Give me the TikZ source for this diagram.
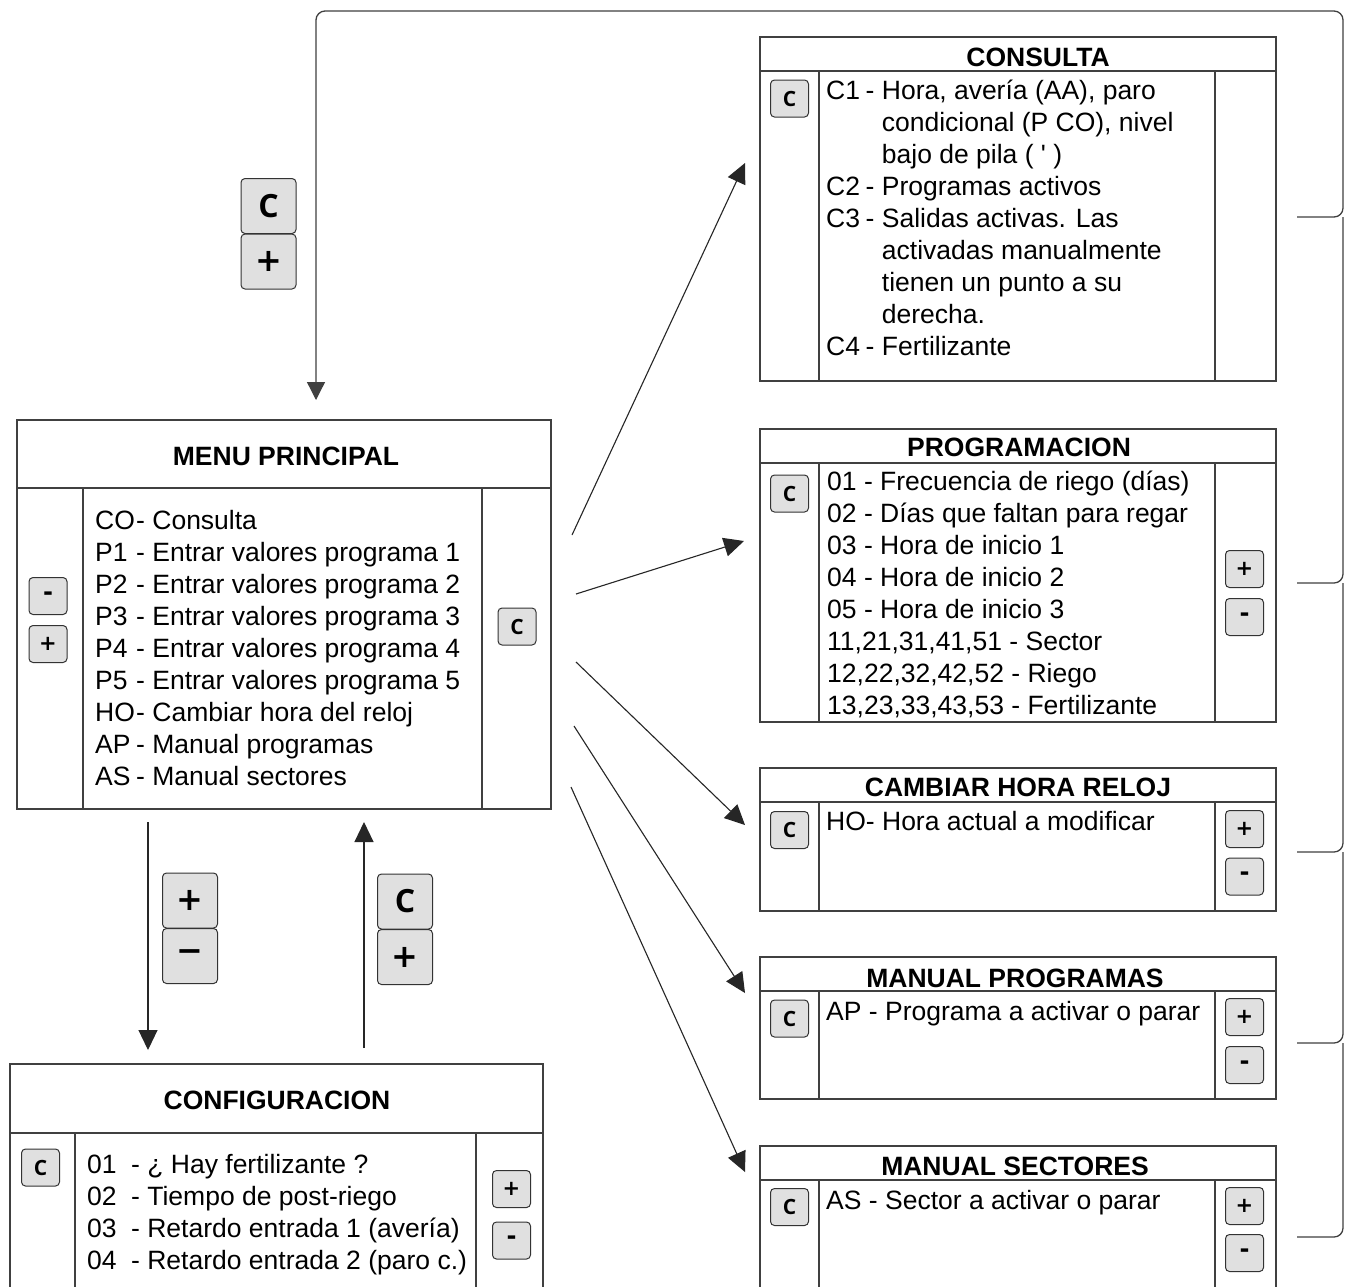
\documentclass[tikz,border=0pt]{standalone}
\usepackage{fontspec}
\setmainfont{Liberation Sans}
\newfontfamily\btnfont{Open Sans}
\newfontfamily\symfont{DejaVu Sans}
\usetikzlibrary{arrows.meta}
\newcommand\tline[4]{\node[txt] (#1) at (#2,#3) {#4};}
\newcommand\lab[2]{\makebox[#1pt][l]{#2}}
\newcommand\kplus{{\symfont\bfseries +}}
\newcommand\kminus{{\symfont\bfseries −}}
\newcommand\ksmin{{\symfont\bfseries\fontsize{24}{24}\selectfont -}}
\begin{document}
\begin{tikzpicture}[x=1pt,y=-1pt,
 panel/.style={draw=black!75, line width=1.3pt, fill=white, inner sep=0pt, outer sep=0pt},
 divline/.style={draw=black!75, line width=1.3pt},
 btn/.style={draw=black!80, line width=1pt, fill=black!12, rounded corners=4pt, inner sep=0pt},
 bigbtn/.style={btn, minimum width=55pt, minimum height=55pt, font=\btnfont\bfseries\fontsize{32}{32}\selectfont},
 smallbtn/.style={btn, minimum width=38pt, minimum height=37pt, font=\btnfont\bfseries\fontsize{21}{21}\selectfont},
 ttl/.style={font=\bfseries\fontsize{26.5}{30}\selectfont, anchor=base, inner sep=0pt},
 txt/.style={font=\fontsize{26.5}{32}\selectfont, anchor=base west, inner sep=0pt},
 conn/.style={draw=black!85, line width=1.1pt, -{Triangle[length=20pt,width=19pt]}},
 retline/.style={draw=black!75, line width=1.3pt, rounded corners=9pt},
]
\clip (0,0) rectangle (1351,1286);
\fill[white] (0,0) rectangle (1351,1286);

% ---------- panels ----------
\node[panel, minimum width=534pt, minimum height=389pt] (menu) at (284,614.5) {};
\node[panel, minimum width=516pt, minimum height=344pt] (consulta) at (1018,209) {};
\node[panel, minimum width=516pt, minimum height=293pt] (prog) at (1018,575.5) {};
\node[panel, minimum width=516pt, minimum height=143pt] (cambiar) at (1018,839.5) {};
\node[panel, minimum width=516pt, minimum height=142pt] (manprog) at (1018,1028) {};
\node[panel, minimum width=516pt, minimum height=154pt] (mansect) at (1018,1223) {};
\node[panel, minimum width=533pt, minimum height=236pt] (config) at (276.5,1182) {};

% dividers
\draw[divline] (17,488) -- (551,488) (83,488) -- (83,809) (482,488) -- (482,809);
\draw[divline] (760,71) -- (1276,71) (819,71) -- (819,381) (1215,71) -- (1215,381);
\draw[divline] (760,463) -- (1276,463) (819,463) -- (819,722) (1215,463) -- (1215,722);
\draw[divline] (760,802) -- (1276,802) (819,802) -- (819,911) (1215,802) -- (1215,911);
\draw[divline] (760,991) -- (1276,991) (819,991) -- (819,1099) (1215,991) -- (1215,1099);
\draw[divline] (760,1180) -- (1276,1180) (819,1180) -- (819,1300) (1215,1180) -- (1215,1300);
\draw[divline] (10,1133) -- (543,1133) (75,1133) -- (75,1300) (476,1133) -- (476,1300);

% ---------- titles ----------
\node[ttl] (tmenu) at (286,465) {MENU PRINCIPAL};
\node[ttl] (tcons) at (1038,66) {CONSULTA};
\node[ttl] (tprog) at (1019,456) {PROGRAMACION};
\node[ttl] (tcamb) at (1018,796) {CAMBIAR HORA RELOJ};
\node[ttl] (tmanp) at (1015,987) {MANUAL PROGRAMAS};
\node[ttl] (tmans) at (1015,1175) {MANUAL SECTORES};
\node[ttl] (tconf) at (277,1109) {CONFIGURACION};

% ---------- menu text ----------
\tline{m1}{95}{529}{\lab{41}{CO}- Consulta}
\tline{m2}{95}{561}{\lab{41}{P1}- Entrar valores programa 1}
\tline{m3}{95}{593}{\lab{41}{P2}- Entrar valores programa 2}
\tline{m4}{95}{625}{\lab{41}{P3}- Entrar valores programa 3}
\tline{m5}{95}{657}{\lab{41}{P4}- Entrar valores programa 4}
\tline{m6}{95}{689}{\lab{41}{P5}- Entrar valores programa 5}
\tline{m7}{95}{721}{\lab{41}{HO}- Cambiar hora del reloj}
\tline{m8}{95}{753}{\lab{41}{AP}- Manual programas}
\tline{m9}{95}{785}{\lab{41}{AS}- Manual sectores}

% ---------- consulta text ----------
\tline{c1}{826}{99}{\lab{39.5}{C1}- Hora, avería (AA), paro}
\tline{c1b}{826}{131}{\hspace*{55.7pt}condicional (P CO), nivel}
\tline{c1c}{826}{163}{\hspace*{55.7pt}bajo de pila ( \textquotesingle\ )}
\tline{c2}{826}{195}{\lab{39.5}{C2}- Programas activos}
\tline{c3}{826}{227}{\lab{39.5}{C3}- Salidas activas. Las}
\tline{c3b}{826}{259}{\hspace*{55.7pt}activadas manualmente}
\tline{c3c}{826}{291}{\hspace*{55.7pt}tienen un punto a su}
\tline{c3d}{826}{323}{\hspace*{55.7pt}derecha.}
\tline{c4}{826}{355}{\lab{39.5}{C4}- Fertilizante}

% ---------- programacion text ----------
\tline{p1}{827}{490}{01 - Frecuencia de riego (días)}
\tline{p2}{827}{522}{02 - Días que faltan para regar}
\tline{p3}{827}{554}{03 - Hora de inicio 1}
\tline{p4}{827}{586}{04 - Hora de inicio 2}
\tline{p5}{827}{618}{05 - Hora de inicio 3}
\tline{p6}{827}{650}{11,21,31,41,51 - Sector}
\tline{p7}{827}{682}{12,22,32,42,52 - Riego}
\tline{p8}{827}{714}{13,23,33,43,53 - Fertilizante}

% ---------- other panel text ----------
\tline{h1}{826}{830}{HO- Hora actual a modificar}
\tline{a1}{826}{1020}{AP - Programa a activar o parar}
\tline{s1}{826}{1209}{AS - Sector a activar o parar}

% ---------- config text ----------
\tline{f1}{87}{1173}{\lab{44}{01}- ¿ Hay fertilizante ?}
\tline{f2}{87}{1205}{\lab{44}{02}- Tiempo de post-riego}
\tline{f3}{87}{1237}{\lab{44}{03}- Retardo entrada 1 (avería)}
\tline{f4}{87}{1269}{\lab{44}{04}- Retardo entrada 2 (paro c.)}

% ---------- buttons ----------
\node[bigbtn] (kC1) at (268.5,206) {C};
\node[bigbtn] (kP1) at (268.5,261.5) {\kplus};
\node[bigbtn] (kP2) at (190,900.5) {\kplus};
\node[bigbtn] (kM2) at (190,956) {\kminus};
\node[bigbtn] (kC3) at (405,901.5) {C};
\node[bigbtn] (kP3) at (405,957) {\kplus};

\node[smallbtn] (mM) at (48,596) {\ksmin};
\node[smallbtn] (mP) at (48,644) {\kplus};
\node[smallbtn] (mC) at (517,626.5) {C};

\node[smallbtn] (cC) at (789.5,98.5) {C};
\node[smallbtn] (pC) at (789.5,493.5) {C};
\node[smallbtn] (pP) at (1244.5,569) {\kplus};
\node[smallbtn] (pM) at (1244.5,617) {\ksmin};
\node[smallbtn] (hC) at (789.5,830) {C};
\node[smallbtn] (hP) at (1244.5,829) {\kplus};
\node[smallbtn] (hM) at (1244.5,876.5) {\ksmin};
\node[smallbtn] (aC) at (789.5,1018.5) {C};
\node[smallbtn] (aP) at (1244.5,1017) {\kplus};
\node[smallbtn] (aM) at (1244.5,1065) {\ksmin};
\node[smallbtn] (sC) at (789.5,1207) {C};
\node[smallbtn] (sP) at (1244.5,1206) {\kplus};
\node[smallbtn] (sM) at (1244.5,1253) {\ksmin};
\node[smallbtn] (fC) at (40.5,1167.5) {C};
\node[smallbtn] (fP) at (511.5,1189) {\kplus};
\node[smallbtn] (fM) at (511.5,1240.5) {\ksmin};

% ---------- connector coordinates ----------
\coordinate (b1) at (1297,217);
\coordinate (b2) at (1297,583);
\coordinate (b3) at (1297,852);
\coordinate (b4) at (1297,1043);
\coordinate (b5) at (1297,1237);
\coordinate (rin) at (316,400);

\coordinate (a1s) at (572,535);  \coordinate (a1e) at (745,163);
\coordinate (a2s) at (576,594);  \coordinate (a2e) at (744,541);
\coordinate (a3s) at (576,662);  \coordinate (a3e) at (745,825);
\coordinate (a4s) at (574,726);  \coordinate (a4e) at (745,993);
\coordinate (a5s) at (571,787);  \coordinate (a5e) at (745,1172);

\coordinate (dns) at (148,822);  \coordinate (dne) at (148,1050);
\coordinate (ups) at (364,1048); \coordinate (upe) at (364,822);

% ---------- connectors ----------
\draw[retline, -{Triangle[length=18pt,width=18pt]}] (b1) -- (1343,217) -- (1343,11) -- (316,11) -- (rin);
\draw[retline] (b2) -- (1343,583) -- (1343,217);
\draw[retline] (b3) -- (1343,852) -- (1343,583);
\draw[retline] (b4) -- (1343,1043) -- (1343,852);
\draw[retline] (b5) -- (1343,1237) -- (1343,1043);

\draw[conn] (a1s) -- (a1e);
\draw[conn] (a2s) -- (a2e);
\draw[conn] (a3s) -- (a3e);
\draw[conn] (a4s) -- (a4e);
\draw[conn] (a5s) -- (a5e);
\draw[conn] (dns) -- (dne);
\draw[conn] (ups) -- (upe);
\end{tikzpicture}
\end{document}
